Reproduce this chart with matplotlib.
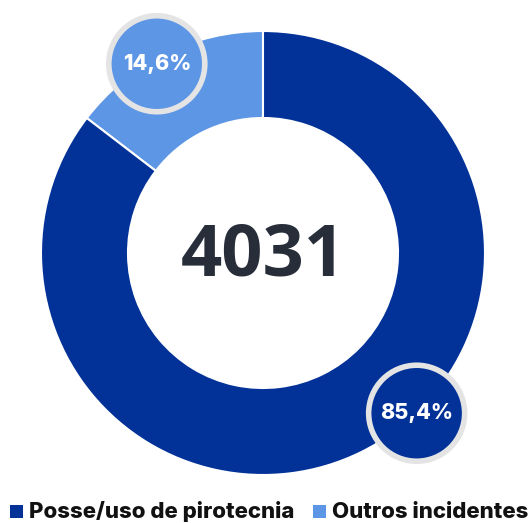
import numpy as np
import matplotlib
matplotlib.use("Agg")
import matplotlib.pyplot as plt
from matplotlib.patches import Circle, Rectangle

categories = ["Posse/uso de pirotecnia", "Outros incidentes"]
shares = [85.4, 14.6]
share_labels = ["85,4%", "14,6%"]
total = 4031
colors = ["#023298", "#5e96e6"]

W, H = 529, 523
fig = plt.figure(figsize=(W / 100, H / 100), dpi=100)
ax = fig.add_axes([0, 0, 1, 1])

cx, cy = 263, 270
R = 222
ring = 87

# draw the small slice first (counter-clockwise from the top), then the big one
order = [1, 0]
wedges, _ = ax.pie([shares[i] for i in order], colors=[colors[i] for i in order],
                   startangle=90, counterclock=True, center=(cx, cy), radius=R,
                   wedgeprops=dict(width=ring, edgecolor="white", linewidth=1.5),
                   frame=True)
ax.set_xlim(0, W)
ax.set_ylim(0, H)
ax.set_aspect("equal")
ax.axis("off")

# percentage badges placed on the outer rim
badge_pos = {1: (119.3, 217), 0: (-46.2, 222)}
for i in order:
    ang, rad = badge_pos[i]
    bx = cx + rad * np.cos(np.radians(ang))
    by = cy + rad * np.sin(np.radians(ang))
    ax.add_patch(Circle((bx, by), 48, facecolor=colors[i], edgecolor="#e4e4e4",
                        linewidth=4, zorder=5))
    ax.text(bx, by, share_labels[i], ha="center", va="center", color="white",
            fontsize=15.5, fontweight="heavy", family="Inter", zorder=6)

ax.text(cx, cy - 3, f"{total}", ha="center", va="center", color="#272e3a",
        fontsize=52, fontweight="bold", family="Open Sans")

# legend
leg_x = [10, 313]
for i, name in enumerate(categories):
    ax.add_patch(Rectangle((leg_x[i], 5), 13, 13, facecolor=colors[i], edgecolor="none"))
    ax.text(leg_x[i] + 19, 11, name, ha="left", va="center", color="#111111",
            fontsize=16, fontweight="heavy", family="Inter")

fig.savefig("out.png", dpi=100)
